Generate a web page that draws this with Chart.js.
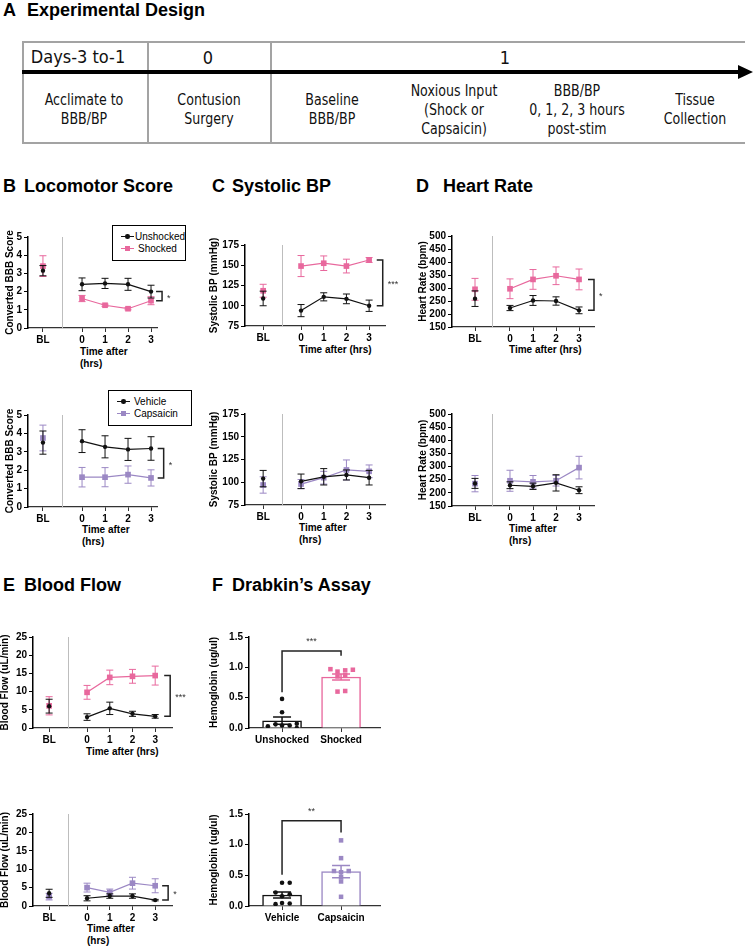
<!DOCTYPE html>
<html lang="en">
<head>
<meta charset="utf-8">
<title>Experimental design and outcomes</title>
<script src="https://cdn.jsdelivr.net/npm/chart.js@4.4.1/dist/chart.umd.min.js"></script>
<style>
  html, body { margin: 0; padding: 0; background: #fff; }
  body { position: relative; width: 754px; height: 947px; overflow: hidden; font-family: "Liberation Sans", Arial, Helvetica, sans-serif; color: #000; }
  .ptitle { position: absolute; font-size: 18px; font-weight: bold; line-height: 20px; white-space: nowrap; }
  .xtitle { position: absolute; font-size: 10px; font-weight: bold; line-height: 12px; white-space: nowrap; }
  .rule { position: absolute; background: #a3a3a3; }
  .cell { position: absolute; transform: translate(-50%, -50%) scaleX(0.85); text-align: center; white-space: nowrap;
          font-family: "Liberation Sans Narrow", "DejaVu Sans Condensed", "Liberation Sans", sans-serif;
          font-size: 16.5px; line-height: 19px; color: #111; }
  .cell.head { font-size: 18px; transform: translate(-50%, -50%); }
  .legend { position: absolute; border: 1px solid #000; background: #fff; font-size: 10px; box-sizing: border-box; padding: 5px 0 0 8px; }
  .legend-row { display: flex; align-items: center; height: 11.5px; }
  .legend-mark { position: relative; width: 13px; height: 11px; margin-right: 4px; }
  .legend-mark i { position: absolute; display: block; }
  canvas { position: absolute; }
</style>
</head>
<body>

<!-- A: experimental design -->
<div class="ptitle" style="left:3px;top:0px">A</div>
<div class="ptitle" style="left:27px;top:0px">Experimental Design</div>

<div class="rule" style="left:22px;top:41px;width:723px;height:1.5px"></div>
<div class="rule" style="left:22px;top:142px;width:723px;height:1.5px"></div>
<div class="rule" style="left:22px;top:41px;width:1.5px;height:103px"></div>
<div class="rule" style="left:147px;top:41px;width:1.5px;height:103px"></div>
<div class="rule" style="left:270px;top:41px;width:1.5px;height:103px"></div>
<div style="position:absolute;left:22px;top:70px;width:718px;height:4px;background:#000"></div>
<div style="position:absolute;left:738px;top:65px;width:0;height:0;border-left:15px solid #000;border-top:7px solid transparent;border-bottom:7px solid transparent"></div>

<div class="cell head" style="left:78px;top:56px">Days-3 to-1</div>
<div class="cell head" style="left:208px;top:57px">0</div>
<div class="cell head" style="left:505px;top:57px">1</div>
<div class="cell" style="left:84px;top:109px">Acclimate to<br>BBB/BP</div>
<div class="cell" style="left:209px;top:109px">Contusion<br>Surgery</div>
<div class="cell" style="left:332px;top:109px">Baseline<br>BBB/BP</div>
<div class="cell" style="left:454px;top:109px">Noxious Input<br>(Shock or<br>Capsaicin)</div>
<div class="cell" style="left:577px;top:109px">BBB/BP<br>0, 1, 2, 3 hours<br>post-stim</div>
<div class="cell" style="left:695px;top:109px">Tissue<br>Collection</div>

<!-- panel titles -->
<div class="ptitle" style="left:3px;top:176px">B</div>
<div class="ptitle" style="left:24px;top:176px">Locomotor Score</div>
<div class="ptitle" style="left:212px;top:176px">C</div>
<div class="ptitle" style="left:232px;top:176px">Systolic BP</div>
<div class="ptitle" style="left:416px;top:176px">D</div>
<div class="ptitle" style="left:443px;top:176px">Heart Rate</div>
<div class="ptitle" style="left:3px;top:575px">E</div>
<div class="ptitle" style="left:24px;top:575px">Blood Flow</div>
<div class="ptitle" style="left:212px;top:575px">F</div>
<div class="ptitle" style="left:232px;top:575px">Drabkin’s Assay</div>

<!-- x axis titles -->
<div class="xtitle" style="left:80px;top:346px">Time after<br>(hrs)</div>
<div class="xtitle" style="left:82px;top:524px">Time after<br>(hrs)</div>
<div class="xtitle" style="left:299px;top:344px">Time after (hrs)</div>
<div class="xtitle" style="left:299px;top:522px">Time after<br>(hrs)</div>
<div class="xtitle" style="left:509px;top:344px">Time after (hrs)</div>
<div class="xtitle" style="left:509px;top:523px">Time after<br>(hrs)</div>
<div class="xtitle" style="left:86px;top:746px">Time after (hrs)</div>
<div class="xtitle" style="left:87px;top:923px">Time after<br>(hrs)</div>

<script>
// time points: baseline, then hours after stimulation
const hourTicks = ['BL', '0', '1', '2', '3'];

// B: converted BBB score (mean, SEM)  [BL, 0, 1, 2, 3]
const bbbUnshocked = [3.15, 2.4, 2.45, 2.4, 2.0];
const bbbUnshockedSem = [0.28, 0.35, 0.28, 0.33, 0.35];
const bbbShocked = [3.4, 1.62, 1.25, 1.06, 1.5];
const bbbShockedSem = [0.57, 0.17, 0.06, 0.06, 0.22];
const bbbVehicle = [3.5, 3.58, 3.27, 3.13, 3.18];
const bbbVehicleSem = [0.63, 0.62, 0.6, 0.6, 0.64];
const bbbCapsaicin = [3.75, 1.62, 1.62, 1.76, 1.58];
const bbbCapsaicinSem = [0.7, 0.53, 0.52, 0.47, 0.44];

// C: systolic BP (mmHg)
const sbpUnshocked = [109, 94, 111, 108.5, 100];
const sbpUnshockedSem = [9, 7.5, 5, 6, 7];
const sbpShocked = [118.5, 149, 152.5, 149, 156.5];
const sbpShockedSem = [8, 13, 9, 8.5, 3];
const sbpVehicle = [104, 101, 106, 108, 105];
const sbpVehicleSem = [9, 8, 9, 5.5, 8];
const sbpCapsaicin = [97, 98, 105, 113.5, 112];
const sbpCapsaicinSem = [9, 5, 7, 11, 7];

// D: heart rate (bpm)
const hrUnshocked = [259, 223, 252, 250, 214];
const hrUnshockedSem = [30, 10, 19, 16, 13];
const hrShocked = [295, 297, 333, 347, 333];
const hrShockedSem = [42, 38, 38, 34, 40];
const hrVehicle = [236, 229, 225, 238, 210];
const hrVehicleSem = [19, 13, 12, 31, 13];
const hrCapsaicin = [235, 246, 242, 246, 296];
const hrCapsaicinSem = [31, 40, 24, 20, 43];

// E: blood flow (uL/min)
const flowUnshocked = [6.0, 3.0, 5.4, 3.9, 3.2];
const flowUnshockedSem = [1.9, 0.9, 1.7, 0.7, 0.5];
const flowShocked = [6.1, 9.8, 13.9, 14.2, 14.4];
const flowShockedSem = [2.5, 1.9, 2.0, 1.9, 2.6];
const flowVehicle = [3.45, 2.1, 2.7, 2.7, 1.6];
const flowVehicleSem = [1.1, 0.7, 0.6, 0.6, 0.2];
const flowCapsaicin = [2.55, 5.0, 3.7, 6.2, 5.5];
const flowCapsaicinSem = [0.9, 1.2, 0.9, 1.6, 1.9];

// F: hemoglobin (ug/ul), individual animals, bar mean and SEM
const hbGroupsTop = ['Unshocked', 'Shocked'];
const hbUnshocked = [0.48, 0.26, 0.03, 0.06, 0.04, 0.04, 0.07, 0.0];
const hbShocked = [0.97, 0.93, 0.95, 0.96, 0.87, 0.85, 0.60, 0.61];
const hbTopMean = [0.12, 0.84];
const hbTopSem = [0.06, 0.05];
const hbGroupsBottom = ['Vehicle', 'Capsaicin'];
const hbVehicle = [0.38, 0.38, 0.22, 0.19, 0.16, 0.03, 0.05, 0.04];
const hbCapsaicin = [1.07, 0.78, 0.57, 0.55, 0.57, 0.47, 0.40, 0.15];
const hbBottomMean = [0.18, 0.56];
const hbBottomSem = [0.05, 0.1];

// horizontal spread of the dots inside each bar (scatter-dot layout)
const spreadUnshocked = [0, 0, -0.24, -0.11, 0, 0.13, 0.25, 0.25];
const spreadShocked = [-0.18, -0.06, 0.07, 0.2, 0.07, -0.06, -0.06, 0.07];
const spreadVehicle = [0, 0.13, -0.11, 0.13, 0, -0.11, 0, 0.13];
const spreadCapsaicin = [0, 0, -0.12, 0, 0.13, 0, 0, 0];

const BLACK = '#111111';
const PINK = '#e8689d';
const PURPLE = '#9b88c4';

// error bars (mean +/- SEM) for every dataset that asks for them
const errorBarPlugin = {
    id: 'errorBars',
    beforeDatasetDraw(chart, args) {
        const ds = chart.data.datasets[args.index];
        if (ds.showErrors && !ds.errorsOnTop) drawErrors(chart, ds);
    },
    afterDatasetDraw(chart, args) {
        const ds = chart.data.datasets[args.index];
        if (ds.showErrors && ds.errorsOnTop) drawErrors(chart, ds);
    }
};

function drawErrors(chart, ds) {
    const ctx = chart.ctx;
    const xs = chart.scales.x, ys = chart.scales.y;
    const half = ds.capHalf || 3.5;
    ctx.save();
    ctx.lineWidth = ds.errorWidth || 1;
    ds.data.forEach((p, j) => {
        if (p.y == null || !p.e) return;
        const col = Array.isArray(ds.borderColor) ? ds.borderColor[j] : ds.borderColor;
        const px = xs.getPixelForValue(p.x);
        const top = ys.getPixelForValue(p.y + p.e);
        const bot = ys.getPixelForValue(Math.max(p.y - p.e, ys.min));
        ctx.strokeStyle = col;
        ctx.beginPath();
        ctx.moveTo(px, top); ctx.lineTo(px, bot);
        ctx.moveTo(px - half, top); ctx.lineTo(px + half, top);
        if (p.y - p.e > ys.min) { ctx.moveTo(px - half, bot); ctx.lineTo(px + half, bot); }
        ctx.stroke();
    });
    ctx.restore();
}

// grey separator between baseline and post-stim time points
const dividerPlugin = {
    id: 'divider',
    beforeDatasetsDraw(chart, args, opts) {
        if (opts.x == null) return;
        const {ctx, chartArea} = chart;
        const px = Math.round(chart.scales.x.getPixelForValue(opts.x)) + 0.5;
        ctx.save();
        ctx.strokeStyle = '#bdbdbd';
        ctx.lineWidth = 1;
        ctx.beginPath();
        ctx.moveTo(px, chartArea.top);
        ctx.lineTo(px, chartArea.bottom);
        ctx.stroke();
        ctx.restore();
    }
};

// significance brackets
const bracketPlugin = {
    id: 'sigBracket',
    afterDatasetsDraw(chart, args, opts) {
        if (!opts.kind || !opts.label) return;
        const ctx = chart.ctx;
        const xs = chart.scales.x, ys = chart.scales.y;
        ctx.save();
        ctx.strokeStyle = '#222';
        ctx.lineWidth = 1.5;
        ctx.fillStyle = '#333';
        ctx.font = '9px "Liberation Sans", Arial, sans-serif';
        if (opts.kind === 'side') {
            const px = xs.getPixelForValue(opts.x);
            const a = ys.getPixelForValue(opts.y1), b = ys.getPixelForValue(opts.y2);
            ctx.beginPath();
            ctx.moveTo(px - 6, a); ctx.lineTo(px, a); ctx.lineTo(px, b); ctx.lineTo(px - 6, b);
            ctx.stroke();
            ctx.textAlign = 'left';
            ctx.textBaseline = 'middle';
            ctx.fillText(opts.label, px + 5, (a + b) / 2 + 2);
        } else {
            const x1 = xs.getPixelForValue(opts.x1), x2 = xs.getPixelForValue(opts.x2);
            const top = ys.getPixelForValue(opts.yTop);
            ctx.beginPath();
            ctx.moveTo(x1, ys.getPixelForValue(opts.yLeft)); ctx.lineTo(x1, top);
            ctx.lineTo(x2, top); ctx.lineTo(x2, ys.getPixelForValue(opts.yRight));
            ctx.stroke();
            ctx.textAlign = 'center';
            ctx.textBaseline = 'bottom';
            ctx.fillText(opts.label, (x1 + x2) / 2, top - 5);
        }
        ctx.restore();
    }
};

Chart.register(errorBarPlugin, dividerPlugin, bracketPlugin);

// plot rectangles on the page (chart area), and where the y title is centred
const boxes = {
    bTop: {x0: 28, x1: 157, y0: 237, y1: 328, titleX: 10},
    bBot: {x0: 28, x1: 157, y0: 415, y1: 507, titleX: 10},
    cTop: {x0: 245, x1: 385, y0: 245, y1: 326, titleX: 214},
    cBot: {x0: 245, x1: 385, y0: 414, y1: 505, titleX: 214},
    dTop: {x0: 452, x1: 594, y0: 236, y1: 327, titleX: 423},
    dBot: {x0: 452, x1: 594, y0: 414, y1: 506, titleX: 423},
    eTop: {x0: 33, x1: 172, y0: 637, y1: 728, titleX: 5},
    eBot: {x0: 33, x1: 172, y0: 814, y1: 906, titleX: 5},
    fTop: {x0: 249, x1: 380, y0: 637, y1: 728, titleX: 214},
    fBot: {x0: 249, x1: 380, y0: 814, y1: 906, titleX: 214}
};

// x layout of the time axes: baseline slot, separator, axis ends
const timeAxes = {
    b: {xMin: -2.35, xMax: 3.26, bl: -1.7, divider: -0.87},
    c: {xMin: -2.47, xMax: 3.7, bl: -1.67, divider: -0.84},
    d: {xMin: -2.52, xMax: 3.65, bl: -1.52, divider: -0.78},
    e: {xMin: -2.38, xMax: 3.74, bl: -1.67, divider: -0.84}
};

function placeCanvas(box, padTop, padRight, axisH) {
    const left = box.titleX - 10;
    const axisW = box.x0 - left;
    const w = axisW + (box.x1 - box.x0) + padRight;
    const h = padTop + (box.y1 - box.y0) + axisH;
    const c = document.createElement('canvas');
    c.width = w; c.height = h;
    c.style.left = left + 'px';
    c.style.top = (box.y0 - padTop) + 'px';
    c.style.width = w + 'px';
    c.style.height = h + 'px';
    document.body.appendChild(c);
    return {canvas: c, axisW: axisW};
}

const tickFont = {family: '"Liberation Sans", Arial, sans-serif', size: 10, weight: 'bold'};

function xScale(min, max, positions, labels, axisH) {
    return {
        type: 'linear', min: min, max: max, offset: false,
        afterBuildTicks: ax => { ax.ticks = positions.map(v => ({value: v})); },
        afterFit: ax => { ax.height = axisH; },
        ticks: {autoSkip: false, maxRotation: 0, padding: 2, color: '#000', font: tickFont,
                callback: (v, i) => labels[i]},
        grid: {offset: false, drawOnChartArea: false, drawTicks: true, tickLength: 4, color: '#333', lineWidth: 1},
        border: {display: true, color: '#333', width: 1.3}
    };
}

function yScale(min, max, step, title, axisW, fmt) {
    return {
        type: 'linear', min: min, max: max,
        afterFit: ax => { ax.width = axisW; },
        ticks: {stepSize: step, autoSkip: false, padding: 2, color: '#000', font: tickFont, callback: fmt || (v => v)},
        grid: {drawOnChartArea: false, drawTicks: true, tickLength: 4, color: '#000', lineWidth: 1},
        border: {display: true, color: '#000', width: 1.5},
        title: {display: true, text: title, color: '#000', padding: 4, font: tickFont}
    };
}

function hoursData(values, sems, axis) {
    const pts = [{x: axis.bl, y: values[0], e: sems[0]}, {x: axis.divider, y: null, e: 0}];
    for (let i = 1; i < values.length; i++) {
        pts.push({x: i - 1, y: values[i], e: sems[i]});
    }
    return pts;
}

function timeChart(box, axis, yCfg, series, sig) {
    const padTop = 12, padRight = 26, axisH = 22;
    const placed = placeCanvas(box, padTop, padRight, axisH);
    const datasets = series.map((s, k) => ({
        label: s.label,
        data: hoursData(s.values, s.sems, axis),
        borderColor: s.color,
        backgroundColor: s.color,
        pointStyle: s.shape,
        pointRadius: s.shape === 'rect' ? 4 : 2.2,
        pointBorderWidth: 0,
        borderWidth: 1.2,
        spanGaps: false,
        showErrors: true,
        capHalf: 3.5,
        order: k
    }));
    return new Chart(placed.canvas, {
        type: 'line',
        data: {datasets: datasets},
        options: {
            responsive: false,
            animation: false,
            layout: {padding: {top: padTop, right: padRight, left: 0, bottom: 0}},
            plugins: {
                legend: {display: false},
                tooltip: {enabled: false},
                divider: {x: axis.divider},
                sigBracket: sig ? {
                    kind: 'side', x: sig.x, label: sig.label,
                    y1: series[0].values[series[0].values.length - 1],
                    y2: series[1].values[series[1].values.length - 1]
                } : {}
            },
            scales: {
                x: xScale(axis.xMin, axis.xMax, [axis.bl, 0, 1, 2, 3], hourTicks, axisH),
                y: yScale(yCfg.min, yCfg.max, yCfg.step, yCfg.title, placed.axisW)
            }
        }
    });
}

function htmlLegend(chart, left, top, width, height) {
    const div = document.createElement('div');
    div.className = 'legend';
    div.style.left = left + 'px';
    div.style.top = top + 'px';
    div.style.width = width + 'px';
    div.style.height = height + 'px';
    chart.data.datasets.forEach(ds => {
        const row = document.createElement('div');
        row.className = 'legend-row';
        const mark = document.createElement('span');
        mark.className = 'legend-mark';
        const size = ds.pointStyle === 'rect' ? 5 : 4.5;
        const radius = ds.pointStyle === 'rect' ? '0' : '50%';
        mark.innerHTML =
            '<i style="left:0;width:13px;top:5px;height:1.2px;background:' + ds.borderColor + '"></i>' +
            '<i style="left:4px;top:3px;width:' + size + 'px;height:' + size + 'px;border-radius:' + radius +
            ';background:' + ds.borderColor + '"></i>';
        const txt = document.createElement('span');
        txt.textContent = ds.label;
        row.appendChild(mark);
        row.appendChild(txt);
        div.appendChild(row);
    });
    document.body.appendChild(div);
}

function hbChart(box, groups, pts0, spread0, pts1, spread1, means, sems, colors, sig) {
    const padTop = 12, padRight = 10, axisH = 22;
    const placed = placeCanvas(box, padTop, padRight, axisH);
    return new Chart(placed.canvas, {
        type: 'bar',
        data: {
            datasets: [
                {type: 'scatter', label: groups[0], data: pts0.map((v, i) => ({x: spread0[i], y: v})),
                 pointStyle: 'circle', pointRadius: 2.3, pointBorderWidth: 0,
                 backgroundColor: colors[0], borderColor: colors[0], order: 0},
                {type: 'scatter', label: groups[1], data: pts1.map((v, i) => ({x: 1 + spread1[i], y: v})),
                 pointStyle: 'rect', pointRadius: 3.2, pointBorderWidth: 0,
                 backgroundColor: colors[1], borderColor: colors[1], order: 1},
                {type: 'bar', label: 'mean',
                 data: [{x: 0, y: means[0], e: sems[0]}, {x: 1, y: means[1], e: sems[1]}],
                 backgroundColor: '#ffffff', borderColor: colors, borderWidth: 1.5,
                 barThickness: 39, grouped: false,
                 showErrors: true, errorsOnTop: true, capHalf: 9, errorWidth: 1.5, order: 2}
            ]
        },
        options: {
            responsive: false,
            animation: false,
            layout: {padding: {top: padTop, right: padRight, left: 0, bottom: 0}},
            plugins: {
                legend: {display: false},
                tooltip: {enabled: false},
                sigBracket: Object.assign({kind: 'top', x1: 0, x2: 1}, sig)
            },
            scales: {
                x: xScale(-0.56, 1.66, [0, 1], groups, axisH),
                y: yScale(0, 1.5, 0.5, 'Hemoglobin (ug/ul)', placed.axisW, v => v.toFixed(1))
            }
        }
    });
}

// B
const bTop = timeChart(boxes.bTop, timeAxes.b,
    {min: 0, max: 5, step: 1, title: 'Converted BBB Score'},
    [{label: 'Unshocked', values: bbbUnshocked, sems: bbbUnshockedSem, color: BLACK, shape: 'circle'},
     {label: 'Shocked', values: bbbShocked, sems: bbbShockedSem, color: PINK, shape: 'rect'}],
    {x: 3.48, label: '*'});
htmlLegend(bTop, 112, 225, 74, 36);

const bBot = timeChart(boxes.bBot, timeAxes.b,
    {min: 0, max: 5, step: 1, title: 'Converted BBB Score'},
    [{label: 'Vehicle', values: bbbVehicle, sems: bbbVehicleSem, color: BLACK, shape: 'circle'},
     {label: 'Capsaicin', values: bbbCapsaicin, sems: bbbCapsaicinSem, color: PURPLE, shape: 'rect'}],
    {x: 3.55, label: '*'});
htmlLegend(bBot, 108, 390, 84, 36);

// C
timeChart(boxes.cTop, timeAxes.c,
    {min: 75, max: 175, step: 25, title: 'Systolic BP (mmHg)'},
    [{label: 'Unshocked', values: sbpUnshocked, sems: sbpUnshockedSem, color: BLACK, shape: 'circle'},
     {label: 'Shocked', values: sbpShocked, sems: sbpShockedSem, color: PINK, shape: 'rect'}],
    {x: 3.6, label: '***'});
timeChart(boxes.cBot, timeAxes.c,
    {min: 75, max: 175, step: 25, title: 'Systolic BP (mmHg)'},
    [{label: 'Vehicle', values: sbpVehicle, sems: sbpVehicleSem, color: BLACK, shape: 'circle'},
     {label: 'Capsaicin', values: sbpCapsaicin, sems: sbpCapsaicinSem, color: PURPLE, shape: 'rect'}],
    null);

// D
timeChart(boxes.dTop, timeAxes.d,
    {min: 150, max: 500, step: 50, title: 'Heart Rate (bpm)'},
    [{label: 'Unshocked', values: hrUnshocked, sems: hrUnshockedSem, color: BLACK, shape: 'circle'},
     {label: 'Shocked', values: hrShocked, sems: hrShockedSem, color: PINK, shape: 'rect'}],
    {x: 3.65, label: '*'});
timeChart(boxes.dBot, timeAxes.d,
    {min: 150, max: 500, step: 50, title: 'Heart Rate (bpm)'},
    [{label: 'Vehicle', values: hrVehicle, sems: hrVehicleSem, color: BLACK, shape: 'circle'},
     {label: 'Capsaicin', values: hrCapsaicin, sems: hrCapsaicinSem, color: PURPLE, shape: 'rect'}],
    null);

// E
timeChart(boxes.eTop, timeAxes.e,
    {min: 0, max: 25, step: 5, title: 'Blood Flow (uL/min)'},
    [{label: 'Unshocked', values: flowUnshocked, sems: flowUnshockedSem, color: BLACK, shape: 'circle'},
     {label: 'Shocked', values: flowShocked, sems: flowShockedSem, color: PINK, shape: 'rect'}],
    {x: 3.66, label: '***'});
timeChart(boxes.eBot, timeAxes.e,
    {min: 0, max: 25, step: 5, title: 'Blood Flow (uL/min)'},
    [{label: 'Vehicle', values: flowVehicle, sems: flowVehicleSem, color: BLACK, shape: 'circle'},
     {label: 'Capsaicin', values: flowCapsaicin, sems: flowCapsaicinSem, color: PURPLE, shape: 'rect'}],
    {x: 3.57, label: '*'});

// F
hbChart(boxes.fTop, hbGroupsTop, hbUnshocked, spreadUnshocked, hbShocked, spreadShocked,
    hbTopMean, hbTopSem, [BLACK, PINK], {yTop: 1.27, yLeft: 0.59, yRight: 1.19, label: '***'});
hbChart(boxes.fBot, hbGroupsBottom, hbVehicle, spreadVehicle, hbCapsaicin, spreadCapsaicin,
    hbBottomMean, hbBottomSem, [BLACK, PURPLE], {yTop: 1.39, yLeft: 0.51, yRight: 1.2, label: '**'});
</script>
</body>
</html>
